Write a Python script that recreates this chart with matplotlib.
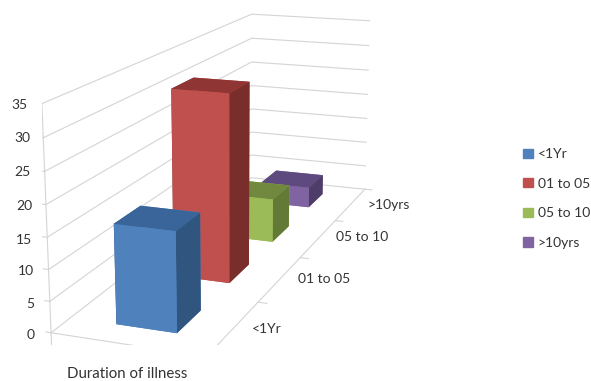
import numpy as np
import matplotlib
matplotlib.use("Agg")
import matplotlib.pyplot as plt
from matplotlib.patches import Patch

plt.rcParams['font.family'] = ['Lato', 'DejaVu Sans']

# Chart data
group_label = "Duration of illness"
categories = ["<1Yr", "01 to 05", "05 to 10", ">10yrs"]
values = [16, 32, 8, 4]
value_ticks = [0, 5, 10, 15, 20, 25, 30, 35]

# Face colours per series: front, top, side
front_colors = ["#4F81BD", "#C0504D", "#9BBB59", "#8064A2"]
top_colors = ["#3A659A", "#8F3533", "#71893F", "#5E4A7E"]
side_colors = ["#30557F", "#7A2E2C", "#637A36", "#4E3D68"]

GRID = "#d4d4d4"
TEXT = "#333333"
FS = 10

W, H = 591, 381
fig = plt.figure(figsize=(W / 100, H / 100), dpi=100)


def label(px, py, s, ha='center', size=FS):
    """Place a text at a pixel position measured from the top-left corner."""
    fig.text(px / W, 1 - py / H, s, ha=ha, va='center', fontsize=size, color=TEXT)


# Square 3D axes placed so the projected box lands in the left part of the figure
side = 371.76
ax = fig.add_axes([42.33 / W, 35.77 / H, side / W, side / H],
                  projection='3d', computed_zorder=False)
ax.set_proj_type('persp', focal_length=0.6307)
ax.view_init(elev=14.984, azim=-69.69)
ax._box_aspect = np.array([0.7114, 2.5506, 1.0])
ax.set_xlim(0, 1)
ax.set_ylim(0, 4)
ax.set_zlim(0, 35)
ax.set_axis_off()
ax.patch.set_visible(False)

n = len(categories)
line = dict(color=GRID, lw=0.8, zorder=1)

# Gridlines across the left and back walls
for v in value_ticks:
    ax.plot([0, 0, 1], [0, n, n], [v, v, v], **line)
    ax.plot([0, -0.035], [0, 0], [v, v], **line)

# Floor edges and axis lines
ax.plot([0, 0], [0, 0], [0, 35], **line)
ax.plot([0, 1, 1], [0, 0, n], [0, 0, 0], **line)
for x in (0, 1):
    ax.plot([x, x], [0, 0], [0, -2.2], **line)
for k in range(n + 1):
    ax.plot([1, 1.06], [k, k], [0, 0], **line)

# Axis labels
value_label_pos = [(35, 335), (34, 304), (34, 271), (32, 240),
                   (32, 206), (31, 172), (30, 138), (28, 105)]
for v, (px, py) in zip(value_ticks, value_label_pos):
    label(px, py, str(v), ha='right')
category_label_pos = [(267, 329), (324, 279), (362, 237), (389, 205)]
for c, (px, py) in zip(categories, category_label_pos):
    label(px, py, c)
label(127, 374, group_label, size=10.8)

# One column per category, drawn back to front
bar_x, bar_w = 0.31, 0.40
bar_d = 0.43
for i in reversed(range(n)):
    faces = [front_colors[i], top_colors[i], front_colors[i],
             front_colors[i], side_colors[i], side_colors[i]]
    ax.bar3d(bar_x, i + (1 - bar_d) / 2, 0, bar_w, bar_d, values[i],
             color=faces, shade=False, zorder=10 + n - i)

handles = [Patch(color=c, label=l) for c, l in zip(front_colors, categories)]
fig.legend(handles=handles, loc='center left', bbox_to_anchor=(516 / W, 1 - 198.5 / H),
           frameon=False, fontsize=FS, handlelength=0.72, handleheight=0.65,
           handletextpad=0.35, labelspacing=1.27, labelcolor=TEXT, borderpad=0)

fig.savefig("out.png", dpi=100)
